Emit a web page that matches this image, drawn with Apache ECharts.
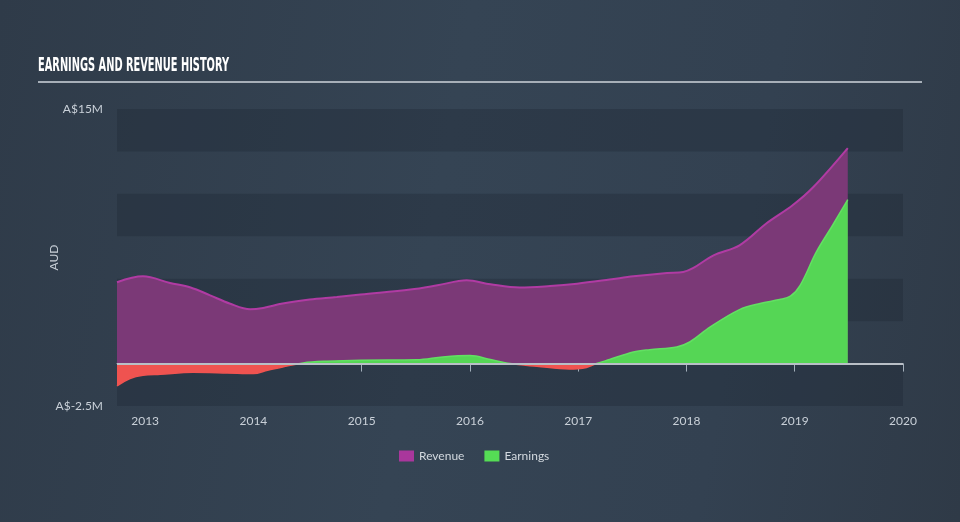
<!DOCTYPE html>
<html>
<head>
<meta charset="utf-8">
<script src="https://cdn.jsdelivr.net/npm/echarts@6/dist/echarts.min.js"></script>
<style>
html,body{margin:0;padding:0;width:960px;height:522px;overflow:hidden;
background:linear-gradient(100deg,#2f3b49 0%,#354454 45%,#334151 75%,#2f3a47 100%);}
#c{width:960px;height:522px;}
</style>
</head>
<body>
<div id="c"></div>
<script>
// ---- data (decimal years, values in A$ millions) ----
const revDates = [2012.74,2012.98,2013.23,2013.42,2013.60,2013.78,2013.97,2014.09,2014.27,2014.52,2014.77,2014.99,2015.45,2015.70,2015.97,2016.19,2016.46,2016.74,2016.99,2017.29,2017.51,2017.82,2017.97,2018.06,2018.25,2018.49,2018.74,2018.98,2019.17,2019.49];
const revValues = [4.79,5.14,4.75,4.48,4.02,3.54,3.20,3.28,3.54,3.77,3.92,4.07,4.36,4.61,4.91,4.67,4.48,4.57,4.71,4.95,5.14,5.34,5.40,5.62,6.38,6.97,8.27,9.33,10.39,12.70];
const earnDates = [2012.74,2012.86,2012.98,2013.14,2013.44,2013.76,2014.00,2014.13,2014.27,2014.46,2014.68,2014.99,2015.51,2015.75,2016.00,2016.19,2016.37,2016.62,2016.92,2017.04,2017.17,2017.29,2017.51,2017.66,2017.91,2018.03,2018.22,2018.49,2018.68,2018.86,2018.96,2019.05,2019.20,2019.35,2019.49];
const earnValues = [-1.32,-0.88,-0.69,-0.63,-0.51,-0.55,-0.59,-0.39,-0.20,0.04,0.14,0.20,0.22,0.39,0.47,0.24,0.00,-0.16,-0.32,-0.28,0.00,0.24,0.68,0.82,0.98,1.27,2.16,3.18,3.54,3.77,3.97,4.61,6.58,8.15,9.66];
const xTicks = [2013,2014,2015,2016,2017,2018,2019,2020];
const yLabelValues = [-2.5,15];

const revData = revDates.map((d,i)=>[d,revValues[i]]);
const earnData = earnDates.map((d,i)=>[d,earnValues[i]]);

const GREEN = '#55d655', GREEN_LINE = '#62e062', RED = '#ef5350';
const chart = echarts.init(document.getElementById('c'), null, {renderer:'canvas'});
const labelColor = '#c9d0d8';
chart.setOption({
  backgroundColor:'transparent',
  animation:false,
  graphic:[
    {type:'text', left:38, top:57, scaleX:0.575, style:{text:'EARNINGS AND REVENUE HISTORY', fill:'#ffffff', font:'bold 19px "Liberation Sans Narrow", "DejaVu Sans Condensed", sans-serif'}},
    {type:'rect', shape:{x:38,y:81,width:884,height:2}, style:{fill:'#a7afb8'}}
  ],
  grid:{left:117,right:57,top:109,bottom:116},
  legend:{
    bottom:55, left:394, itemWidth:15, itemHeight:11, itemGap:20,
    textStyle:{color:'#d3d9df', fontSize:12, fontFamily:'Lato'},
    icon:'rect',
    data:['Revenue','Earnings']
  },
  xAxis:{
    type:'value', min:2012.74, max:2020,
    axisLine:{show:true, lineStyle:{color:'#a3afbb', width:1}},
    axisTick:{show:true, length:8, customValues:xTicks, lineStyle:{color:'#a3afbb'}},
    axisLabel:{customValues:xTicks, color:labelColor, fontSize:12, fontFamily:'Lato', margin:9, formatter:v=>String(Math.round(v))},
    splitLine:{show:false}
  },
  yAxis:{
    type:'value', min:-2.5, max:15, interval:2.5,
    name:'AUD', nameLocation:'middle', nameGap:57, nameMoveOverlap:false,
    nameTextStyle:{color:labelColor, fontSize:12, fontFamily:'Lato'},
    axisLine:{show:false}, axisTick:{show:false},
    axisLabel:{customValues:yLabelValues, color:labelColor, fontSize:12, fontFamily:'Lato', margin:14,
      formatter:v=>'A$'+v+'M'},
    splitLine:{show:false},
    splitArea:{show:true, areaStyle:{color:['rgba(28,38,50,0.32)','rgba(255,255,255,0.0)']}}
  },
  series:[
    {
      name:'Revenue', type:'line', data:revData, smooth:0.35, showSymbol:false,
      itemStyle:{color:'#a9379c'},
      lineStyle:{color:'#b03ba3', width:2},
      areaStyle:{color:'#7b3977', opacity:1},
      markLine:{silent:true, symbol:'none', label:{show:false},
        lineStyle:{color:'#b9bfc6', width:2, type:'solid'},
        data:[{yAxis:0}]}
    },
    {
      name:'Earnings', type:'line', data:earnData, smooth:0.35, showSymbol:false,
      itemStyle:{color:'#55dd55'},
      lineStyle:{width:1.5, color:GREEN_LINE},
      areaStyle:{opacity:1, color:GREEN}
    }
  ]
});

// colour the earnings area red below zero using a global gradient split at the zero pixel
const y0 = chart.convertToPixel({yAxisIndex:0}, 0);
function split(top, bottom){
  return new echarts.graphic.LinearGradient(0, 0, 0, 522, [
    {offset:0, color:top},
    {offset:y0/522, color:top},
    {offset:y0/522, color:bottom},
    {offset:1, color:bottom}
  ], true);
}
chart.setOption({
  series:[{}, {
    lineStyle:{color:split(GREEN_LINE, RED)},
    areaStyle:{color:split(GREEN, RED)}
  }]
});
</script>
</body>
</html>
